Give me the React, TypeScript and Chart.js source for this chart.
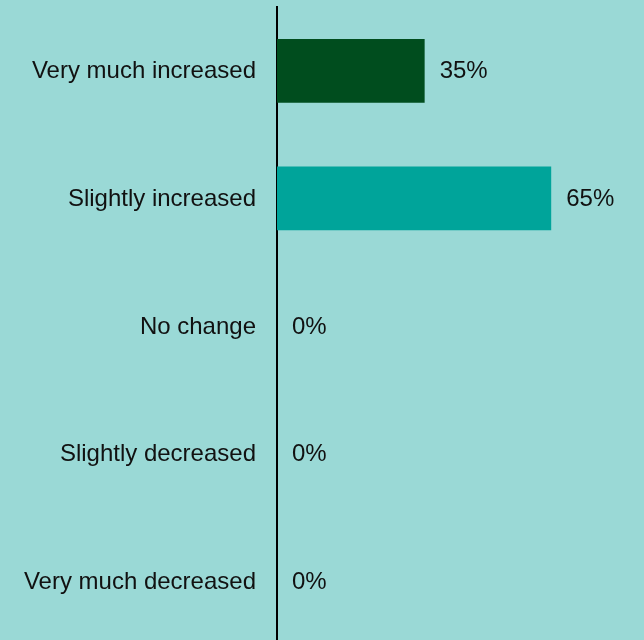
import React, { useEffect, useRef } from "react";
import { Chart, registerables } from "chart.js";

Chart.register(...registerables);

const categories = [
  "Very much increased",
  "Slightly increased",
  "No change",
  "Slightly decreased",
  "Very much decreased",
];
const values = [35, 65, 0, 0, 0];
const barColors = ["#004D1E", "#00A49A", "#00A49A", "#00A49A", "#00A49A"];
const valueLabels = ["35%", "65%", "0%", "0%", "0%"];

const BG = "#9AD9D6";
const FONT_FAMILY = "'Liberation Sans', Arial, sans-serif";
const FONT_SIZE = 24;

const valueLabelPlugin = {
  id: "valueLabels",
  afterDatasetsDraw(chart: any) {
    const { ctx } = chart;
    const meta = chart.getDatasetMeta(0);
    ctx.save();
    ctx.font = `${FONT_SIZE}px ${FONT_FAMILY}`;
    ctx.fillStyle = "#111111";
    ctx.textAlign = "left";
    ctx.textBaseline = "middle";
    meta.data.forEach((bar: any, i: number) => {
      ctx.fillText(valueLabels[i], bar.x + 15, bar.y + 1);
    });
    ctx.restore();
  },
};

export default function App() {
  const ref = useRef<HTMLCanvasElement>(null);
  useEffect(() => {
    document.body.style.margin = "0";
    document.body.style.background = BG;
    const chart = new Chart(ref.current!, {
      type: "bar",
      data: {
        labels: categories,
        datasets: [
          {
            data: values,
            backgroundColor: barColors,
            borderWidth: 0,
            categoryPercentage: 1,
            barPercentage: 0.5,
          },
        ],
      },
      options: {
        indexAxis: "y",
        responsive: false,
        animation: false,
        layout: { padding: { top: 7, right: 0, bottom: 0, left: 0 } },
        plugins: { legend: { display: false }, tooltip: { enabled: false } },
        scales: {
          x: { display: false, min: 0, max: 87 },
          y: {
            grid: { display: false },
            border: { display: true, color: "#000000", width: 2 },
            ticks: {
              color: "#111111",
              padding: 13,
              labelOffset: 1,
              font: { family: FONT_FAMILY, size: FONT_SIZE },
            },
            afterFit(scale: any) {
              scale.width = 277;
              scale.paddingTop = 0;
              scale.paddingBottom = 0;
            },
          },
        },
      },
      plugins: [valueLabelPlugin],
    });
    return () => chart.destroy();
  }, []);
  return (
    <div
      style={{
        position: "fixed",
        top: 0,
        left: 0,
        width: 644,
        height: 645,
        background: BG,
      }}
    >
      <canvas ref={ref} width={644} height={645} style={{ display: "block" }} />
    </div>
  );
}
